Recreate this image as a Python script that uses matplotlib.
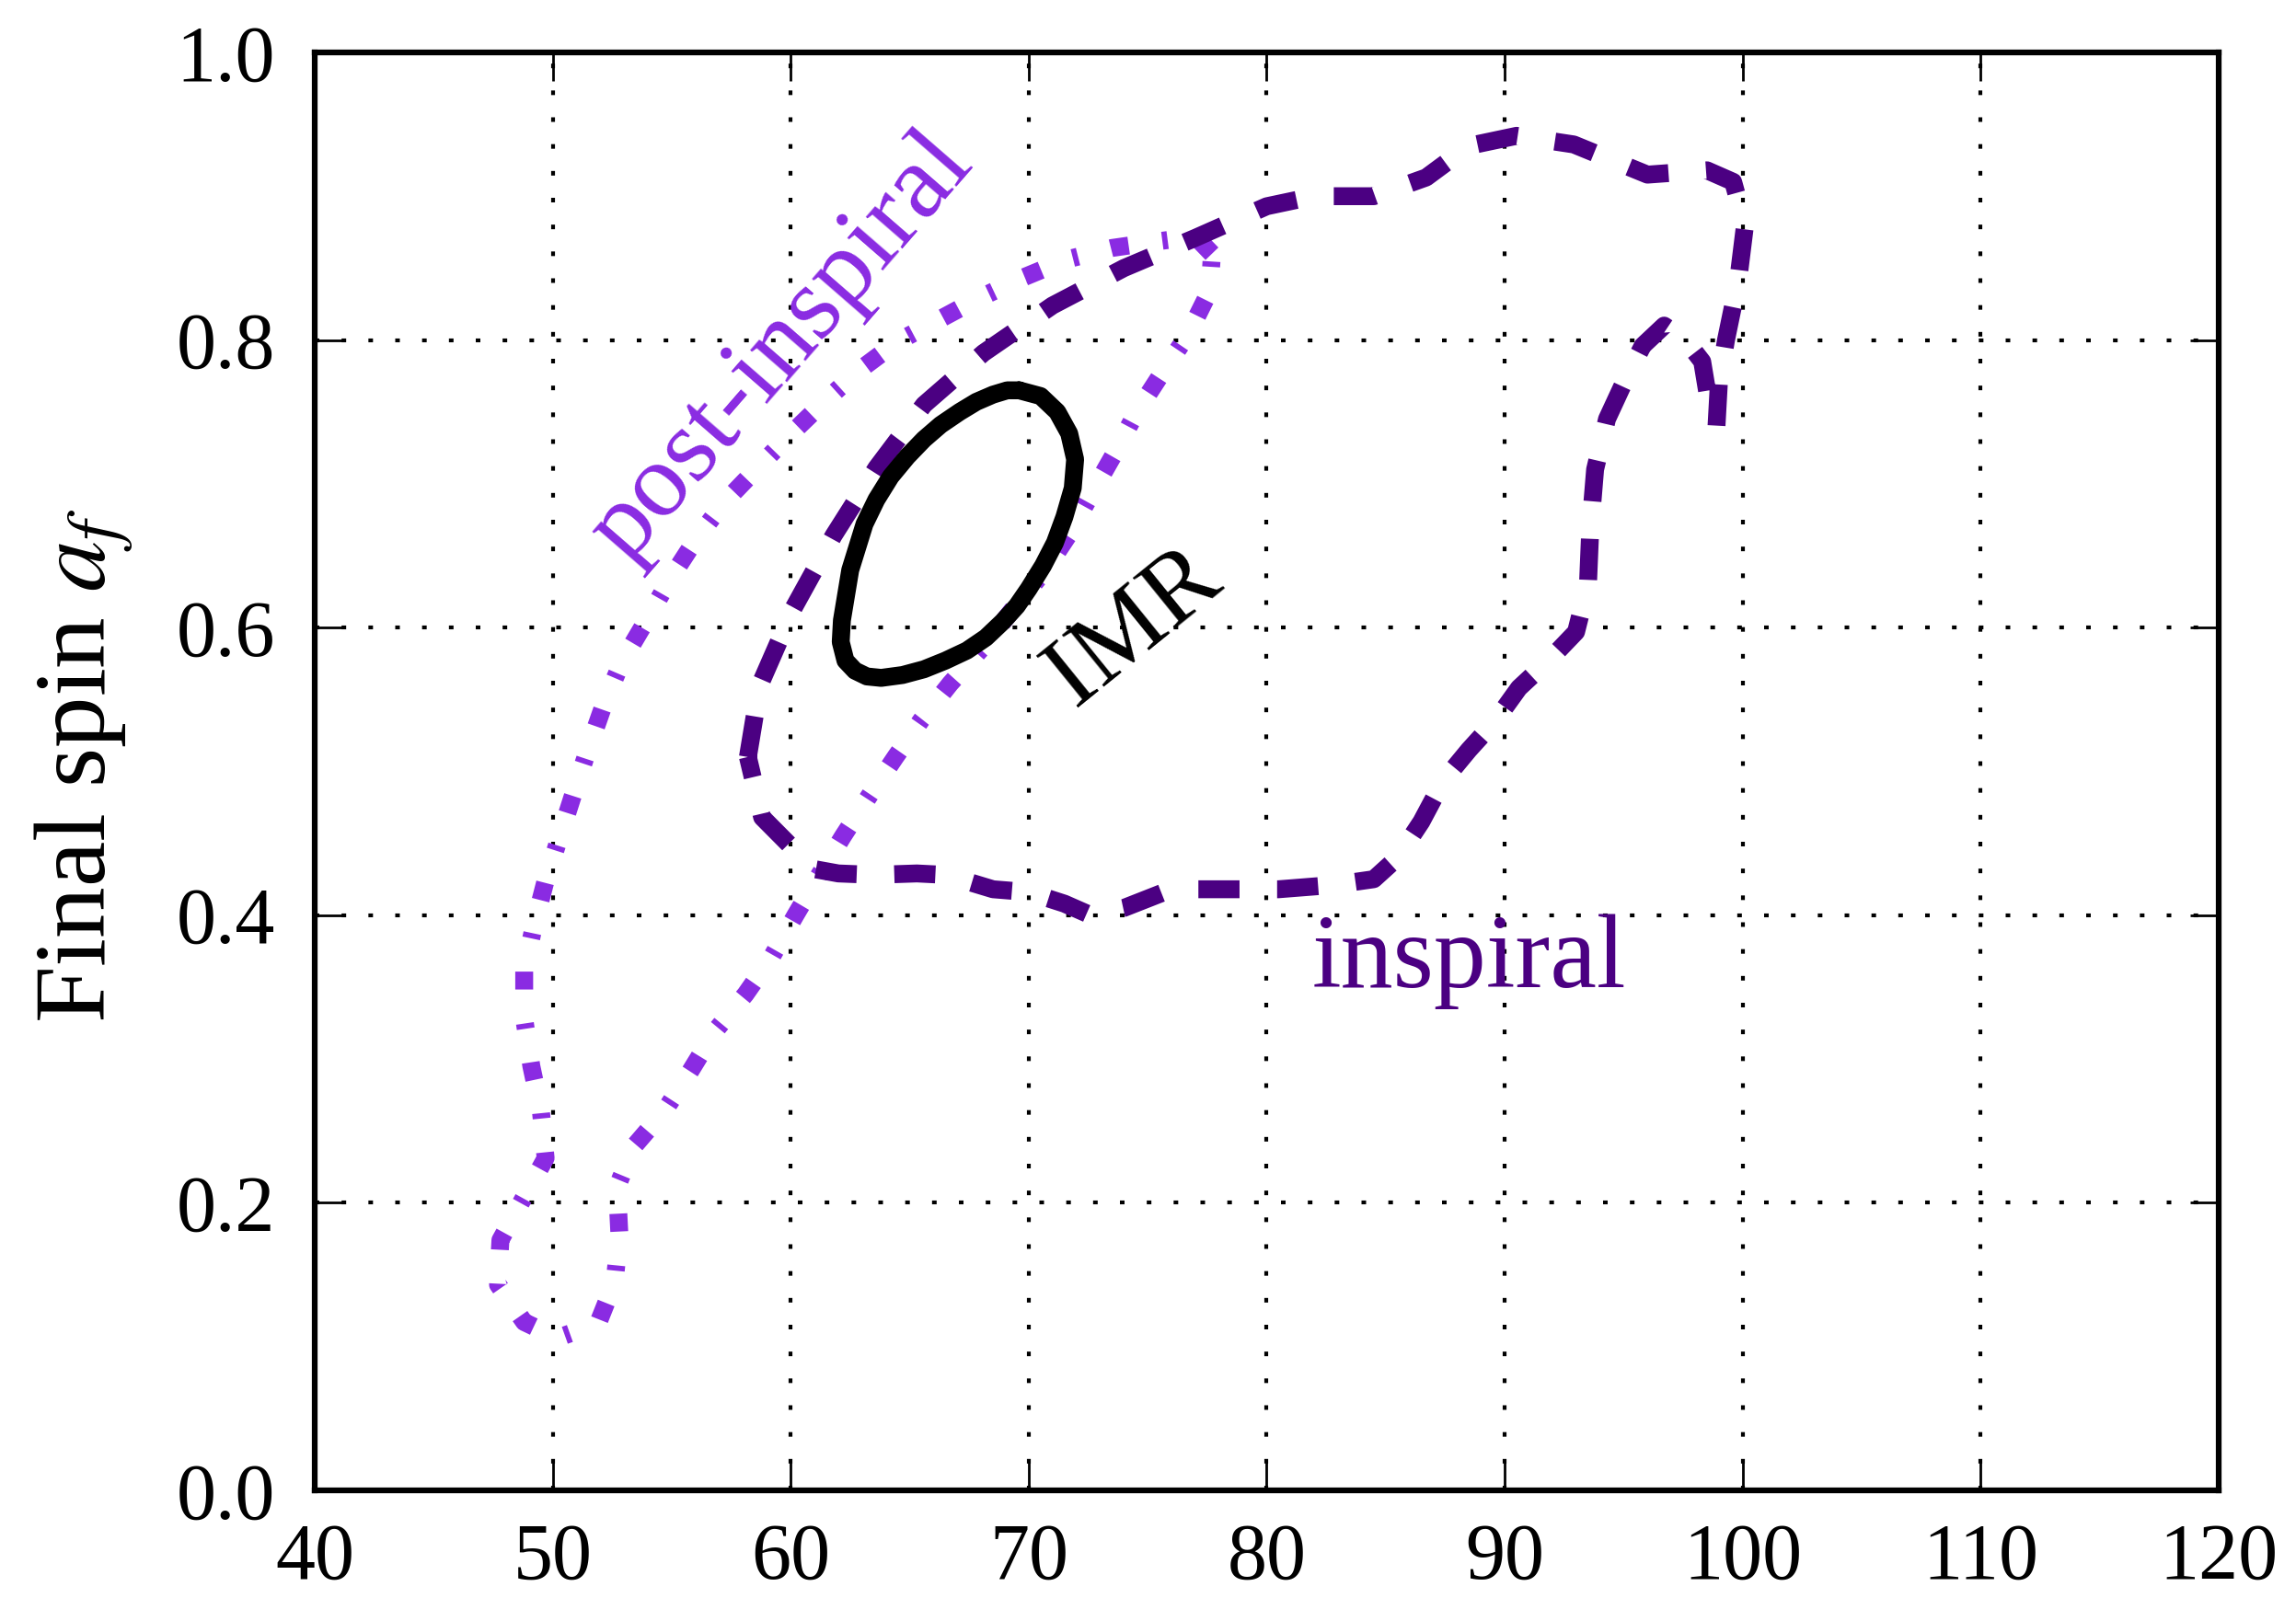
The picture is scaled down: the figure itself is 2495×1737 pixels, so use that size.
import matplotlib
matplotlib.use("Agg")
import matplotlib.pyplot as plt

plt.rcParams["font.family"] = ["Liberation Serif", "DejaVu Serif"]
plt.rcParams["mathtext.fontset"] = "stix"

# Axis ticks
x_ticks = [40, 50, 60, 70, 80, 90, 100, 110, 120]
y_ticks = [0.0, 0.2, 0.4, 0.6, 0.8, 1.0]
x_tick_labels = ["40", "50", "60", "70", "80", "90", "100", "110", "120"]
y_tick_labels = ["0.0", "0.2", "0.4", "0.6", "0.8", "1.0"]

# 90% credible contour: full IMR analysis
imr_mass = [69.6, 70.5, 71.2, 71.7, 71.95, 71.85, 71.5, 71.1, 70.6, 70.0, 69.5,
            68.9, 68.2, 67.4, 66.5, 65.6, 64.7, 63.8, 63.2, 62.7, 62.3, 62.1,
            62.15, 62.3, 62.5, 62.8, 63.1, 63.6, 64.2, 64.9, 65.6, 66.3, 67.1,
            67.8, 68.5, 69.1, 69.6]
imr_spin = [0.765, 0.761, 0.750, 0.735, 0.717, 0.697, 0.677, 0.659, 0.643, 0.627,
            0.615, 0.604, 0.593, 0.584, 0.577, 0.571, 0.567, 0.565, 0.566, 0.570,
            0.577, 0.590, 0.605, 0.620, 0.640, 0.656, 0.672, 0.689, 0.705, 0.719,
            0.731, 0.741, 0.750, 0.757, 0.762, 0.765, 0.765]

# 90% credible contour: inspiral part only
insp_mass = [58.2, 58.7, 60.1, 61.8, 63.6, 65.6, 68.1, 71.0, 74.0, 77.0, 80.0,
             82.0, 84.5, 86.7, 88.5, 90.5, 92.9, 96.0, 98.5, 99.6, 100.1, 99.8,
             99.3, 99.0, 98.9, 98.6, 98.3, 97.6, 96.7, 95.8, 95.0, 94.3, 93.8,
             93.6, 93.5, 93.0, 91.9, 90.6, 89.6, 88.5, 87.4, 86.5, 85.5, 84.5,
             82.8, 80.5, 78.5, 76.0, 74.0, 72.6, 71.5, 70.0, 68.5, 66.5, 65.3,
             63.5, 62.0, 61.0, 60.0, 58.8, 58.2]
insp_spin = [0.510, 0.560, 0.613, 0.664, 0.711, 0.755, 0.791, 0.824, 0.850, 0.871,
             0.893, 0.900, 0.900, 0.913, 0.935, 0.942, 0.936, 0.915, 0.918, 0.910,
             0.880, 0.840, 0.800, 0.770, 0.740, 0.755, 0.785, 0.800, 0.810, 0.796,
             0.770, 0.745, 0.710, 0.670, 0.630, 0.597, 0.578, 0.558, 0.535, 0.515,
             0.493, 0.465, 0.440, 0.425, 0.421, 0.418, 0.418, 0.418, 0.405, 0.400,
             0.408, 0.416, 0.418, 0.428, 0.429, 0.428, 0.429, 0.432, 0.448, 0.468,
             0.510]

# 90% credible contour: post-inspiral part only
post_mass = [77.7, 77.0, 75.6, 73.5, 71.6, 69.7, 67.9, 66.1, 64.5, 62.8, 61.4,
             59.9, 58.6, 57.2, 56.0, 54.9, 53.9, 52.9, 52.2, 51.5, 50.9, 50.3,
             49.7, 49.2, 48.8, 48.8, 49.1, 49.5, 49.7, 48.8, 47.8, 47.7, 48.8,
             50.2, 51.9, 52.6, 52.8, 52.7, 53.4, 54.7, 55.8, 56.8, 58.1, 59.2,
             60.2, 61.2, 62.2, 63.3, 64.4, 65.5, 66.7, 68.0, 69.3, 70.7, 71.7,
             72.6, 73.6, 74.5, 75.6, 76.7, 77.6, 77.7]
post_spin = [0.860, 0.872, 0.869, 0.864, 0.856, 0.843, 0.829, 0.813, 0.799, 0.778,
             0.757, 0.733, 0.711, 0.687, 0.661, 0.633, 0.604, 0.576, 0.549, 0.516,
             0.486, 0.455, 0.424, 0.392, 0.361, 0.328, 0.295, 0.264, 0.231, 0.204,
             0.174, 0.143, 0.117, 0.106, 0.116, 0.145, 0.178, 0.211, 0.239, 0.264,
             0.292, 0.319, 0.345, 0.371, 0.400, 0.428, 0.455, 0.483, 0.510, 0.536,
             0.561, 0.585, 0.612, 0.640, 0.665, 0.692, 0.721, 0.749, 0.777, 0.804,
             0.834, 0.860]

c_insp = "#4B0082"
c_post = "#8A2BE2"

fig = plt.figure(figsize=(24.95, 17.37), dpi=100)
ax = fig.add_axes([0.1371, 0.0674, 0.8292, 0.8998])

ax.plot(post_mass, post_spin, color=c_post, lw=14,
        linestyle=(0, (1.0, 1.9, 0.3, 1.9)), dash_capstyle="butt", zorder=3)
ax.plot(insp_mass, insp_spin, color=c_insp, lw=14,
        linestyle=(0, (2.3, 2.1)), dash_capstyle="butt", zorder=4)
ax.plot(imr_mass, imr_spin, color="black", lw=14,
        solid_joinstyle="round", solid_capstyle="round", zorder=5)

ax.text(59.6, 0.795, "post-inspiral", color=c_post, fontsize=83,
        rotation=49, ha="center", va="center")
ax.text(75.1, 0.587, "IMR", color="black", fontsize=80,
        rotation=39, ha="center", va="baseline", rotation_mode="anchor")
ax.text(81.9, 0.35, "inspiral", color=c_insp, fontsize=82,
        ha="left", va="baseline")

ax.set_xlim(40, 120)
ax.set_ylim(0.0, 1.0)
ax.set_xticks(x_ticks)
ax.set_xticklabels(x_tick_labels)
ax.set_yticks(y_ticks)
ax.set_yticklabels(y_tick_labels)
ax.tick_params(direction="in", length=22, width=2, labelsize=62,
               top=True, right=True)
ax.tick_params(axis="x", pad=25)
ax.tick_params(axis="y", pad=31)
ax.grid(True, color="black", linewidth=3, linestyle=(0, (1.2, 5.8)))
ax.set_axisbelow(True)
for s in ax.spines.values():
    s.set_linewidth(4.5)

fig.text(91 / 2495, 1 - 832 / 1737, "Final spin $a_f$", fontsize=80,
         rotation=90, ha="center", va="center")

fig.savefig("out.png", dpi=100, facecolor="white")
